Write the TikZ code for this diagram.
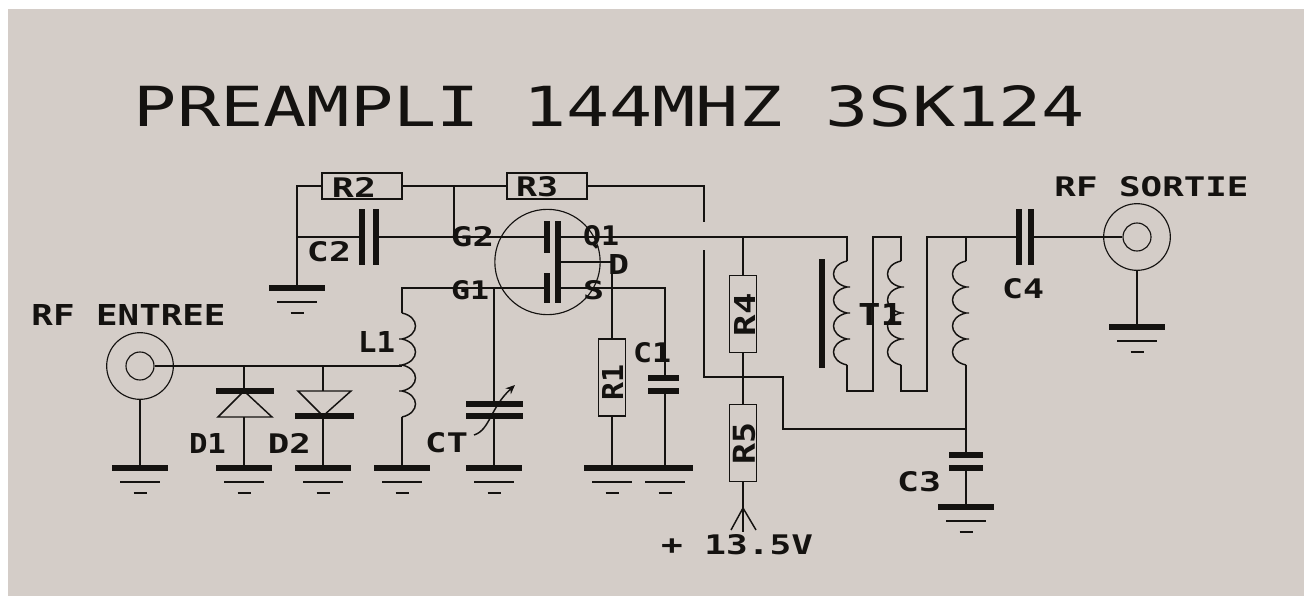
\documentclass[tikz,border=0pt]{standalone}
\usepackage{fontspec}
\usepackage{graphicx}
\usetikzlibrary{arrows.meta}
\newfontfamily\cadfont{DejaVu Sans Mono}
\newdimen\pxu \pxu=0.75pt
\newcommand\cadtext[3]{\resizebox{#1\pxu}{#2\pxu}{\cadfont\bfseries #3}}
\newcommand\cadtitle[3]{\resizebox{#1\pxu}{#2\pxu}{\cadfont #3}}
\definecolor{panel}{HTML}{D4CDC8}
\definecolor{ink}{HTML}{141210}
\tikzset{
  wire/.style={draw=ink,line width=1.1pt},
  plate/.style={draw=ink,line width=3.9pt},
  gbar/.style={draw=ink,line width=4pt},
  lbl/.style={inner sep=0pt,outer sep=0pt,text=ink},
  hres/.style={draw=ink,line width=1.1pt,rectangle,inner sep=0pt,minimum width=60pt,minimum height=19.5pt},
  vres/.style={draw=ink,line width=1.1pt,rectangle,inner sep=0pt,minimum width=20.5pt,minimum height=58pt},
  jack/.style={draw=ink,line width=0.85pt,circle,inner sep=0pt,minimum size=50pt},
  jackin/.style={draw=ink,line width=0.85pt,circle,inner sep=0pt,minimum size=21pt},
  fetbody/.style={draw=ink,line width=0.85pt,circle,inner sep=0pt,minimum size=79pt},
  gnd/.pic={
    \draw[gbar] (-28,0) -- (28,0);
    \draw[wire] (-20,14) -- (20,14);
    \draw[wire] (-6.5,25) -- (6.5,25);
  },
  coil/.pic={
    \draw[wire] (0,0)
      .. controls (18,4) and (18,22) .. (0,26) -- (-3,26) -- (0,26)
      .. controls (18,30) and (18,48) .. (0,52) -- (-3,52) -- (0,52)
      .. controls (18,56) and (18,74) .. (0,78) -- (-3,78) -- (0,78)
      .. controls (18,82) and (18,100) .. (0,104);
  }
}
\begin{document}
\begin{tikzpicture}[x=0.75pt,y=-0.75pt]
\useasboundingbox (0,0) rectangle (1304,596);
\fill[white] (0,0) rectangle (1304,596);
\fill[panel] (8,9) rectangle (1304,596);

% components with a body
\node[hres] (R2) at (362,186) {};
\node[hres] (R3) at (547,186) {};
\node[vres] (R1) at (612,377.5) {};
\node[vres] (R4) at (743,314) {};
\node[vres] (R5) at (743,443) {};
\node[jack] (Jin) at (140,366) {};
\node[jackin] (JinC) at (140,366) {};
\node[jack] (Jout) at (1137,237) {};
\node[jackin] (JoutC) at (1137,237) {};
\node[fetbody] (Q) at (547.5,262) {};

% named points
\coordinate (gC2) at (297,288);
\coordinate (gJin) at (140,468);
\coordinate (gD1) at (244,468);
\coordinate (gD2) at (323,468);
\coordinate (gL1) at (402,468);
\coordinate (gCT) at (494,468);
\coordinate (gR1) at (612,468);
\coordinate (gC1) at (665,468);
\coordinate (gC3) at (966,507);
\coordinate (gOut) at (1137,327);
\coordinate (tapG2) at (454,185);
\coordinate (g2line) at (454,237);
\coordinate (c2node) at (297,237);
\coordinate (c2a) at (362,237);
\coordinate (c2b) at (376,237);
\coordinate (gateA) at (547,237);
\coordinate (gateB) at (547,288);
\coordinate (chanD) at (558,237);
\coordinate (chanM) at (558,262);
\coordinate (chanS) at (558,288);
\coordinate (drainT) at (612,262);
\coordinate (sRight) at (665,288);
\coordinate (c1a) at (665,378);
\coordinate (c1b) at (665,391);
\coordinate (ctTop) at (494,288);
\coordinate (ctA) at (494,404);
\coordinate (ctB) at (494,416);
\coordinate (l1Top) at (402,288);
\coordinate (l1C) at (402,313);
\coordinate (l1End) at (402,417);
\coordinate (l1Tap) at (402,366);
\coordinate (d1T) at (244,366);
\coordinate (d1A) at (244,391);
\coordinate (d1B) at (244,417);
\coordinate (d2T) at (323,366);
\coordinate (d2A) at (323,391);
\coordinate (d2B) at (323,416);
\coordinate (upT) at (704,222);
\coordinate (upB) at (704,250);
\coordinate (feedA) at (783,377);
\coordinate (feedB) at (966,429);
\coordinate (r4T) at (743,237);
\coordinate (t1A) at (847,237);
\coordinate (t1Ac) at (847,261);
\coordinate (t1Ae) at (847,365);
\coordinate (t1AB) at (873,391);
\coordinate (t1Bt) at (873,237);
\coordinate (t1Bc) at (901,261);
\coordinate (t1Be) at (901,365);
\coordinate (t1BB) at (927,391);
\coordinate (t1Ct) at (927,237);
\coordinate (t1Cc) at (966,261);
\coordinate (t1Ce) at (966,365);
\coordinate (t1Cj) at (966,237);
\coordinate (c3a) at (966,455);
\coordinate (c3b) at (966,468);
\coordinate (c4a) at (1019,237);
\coordinate (c4b) at (1031,237);
\coordinate (fanE) at (743,532);
\coordinate (fanA) at (743,508);
\coordinate (fanL) at (731,530);
\coordinate (fanR) at (756,530);

% wires
\draw[wire] (R2.west) -| (gC2);
\draw[wire] (R2.east) -- (R3.west);
\draw[wire] (R3.east) -| (upT);
\draw[wire] (tapG2) -- (g2line);
\draw[wire] (c2node) -- (c2a);
\draw[wire] (c2b) -- (gateA);
\draw[wire] (chanD) -- (t1A) -- (t1Ac);
\draw[wire] (chanM) -- (drainT) -- (R1.north);
\draw[wire] (chanS) -- (sRight) -- (c1a);
\draw[wire] (c1b) -- (gC1);
\draw[wire] (R1.south) -- (gR1);
\draw[wire] (l1C) -- (l1Top) -- (gateB);
\draw[wire] (ctTop) -- (ctA);
\draw[wire] (ctB) -- (gCT);
\draw[wire] (l1End) -- (gL1);
\draw[wire] (JinC.east) -- (l1Tap);
\draw[wire] (Jin.south) -- (gJin);
\draw[wire] (d1T) -- (d1A);
\draw[wire] (d1B) -- (gD1);
\draw[wire] (d2T) -- (d2A);
\draw[wire] (d2B) -- (gD2);
\draw[wire] (upB) |- (feedA) |- (feedB);
\draw[wire] (r4T) -- (R4.north);
\draw[wire] (R4.south) -- (R5.north);
\draw[wire] (R5.south) -- (fanE);
\draw[wire] (fanA) -- (fanL);
\draw[wire] (fanA) -- (fanR);
\draw[wire] (t1Ae) |- (t1AB) -- (t1Bt) -| (t1Bc);
\draw[wire] (t1Be) |- (t1BB) -- (t1Ct) -- (c4a);
\draw[wire] (t1Cj) -- (t1Cc);
\draw[wire] (t1Ce) -- (c3a);
\draw[wire] (c3b) -- (gC3);
\draw[wire] (c4b) -- (JoutC.west);
\draw[wire] (Jout.south) -- (gOut);

% capacitor plates, FET electrodes, core
\draw[plate] (362,209) -- (362,265);
\draw[plate] (376,209) -- (376,265);
\draw[plate] (1019,209) -- (1019,265);
\draw[plate] (1031,209) -- (1031,265);
\draw[plate] (648,378) -- (679,378);
\draw[plate] (648,391) -- (679,391);
\draw[plate] (949,455) -- (983,455);
\draw[plate] (949,468) -- (983,468);
\draw[plate] (466,404) -- (523,404);
\draw[plate] (466,416) -- (523,416);
\draw[plate] (547,221) -- (547,253);
\draw[plate] (547,273) -- (547,303);
\draw[plate] (558,221) -- (558,303);
\draw[draw=ink,line width=4.4pt] (822,259) -- (822,368);

% diodes
\draw[plate] (216,391) -- (274,391);
\draw[wire] (244,391) -- (218,417) -- (272,417) -- cycle;
\draw[wire] (298,391) -- (351,391) -- (323,416) -- cycle;
\draw[plate] (295,416) -- (354,416);

% variable capacitor arrow
\draw[wire,-{Stealth[length=7pt,width=6pt]}] (474,435) .. controls (490,430) and (490,408) .. (515,385);

% coils
\pic at (l1C) {coil};
\pic[xscale=-1] at (t1Ac) {coil};
\pic[xscale=-1] at (t1Bc) {coil};
\pic[xscale=-1] at (t1Cc) {coil};

% grounds
\pic at (gC2) {gnd};
\pic at (gJin) {gnd};
\pic at (gD1) {gnd};
\pic at (gD2) {gnd};
\pic at (gL1) {gnd};
\pic at (gCT) {gnd};
\pic at (gR1) {gnd};
\pic at (gC1) {gnd};
\pic at (gC3) {gnd};
\pic at (gOut) {gnd};

% labels
\node[lbl] (title) at (609.5,106) {\cadtitle{951}{41}{PREAMPLI 144MHZ 3SK124}};
\node[lbl] (lRFin) at (128.5,314.5) {\cadtext{194}{21}{RF ENTREE}};
\node[lbl] (lRFout) at (1151.5,187) {\cadtext{194}{20}{RF SORTIE}};
\node[lbl] (lR2) at (354,187) {\cadtext{44}{20}{R2}};
\node[lbl] (lR3) at (537,187) {\cadtext{42}{20}{R3}};
\node[lbl] (lC2) at (329,252) {\cadtext{44}{20}{C2}};
\node[lbl] (lG2) at (472.5,237) {\cadtext{43}{20}{G2}};
\node[lbl] (lG1) at (470,290) {\cadtext{38}{19}{G1}};
\node[lbl] (lQ1) at (601,237) {\cadtext{36}{20}{Q1}};
\node[lbl] (lD) at (618.5,264) {\cadtext{21}{20}{D}};
\node[lbl] (lS) at (593.5,290) {\cadtext{21}{19}{S}};
\node[lbl] (lC1) at (652,353) {\cadtext{38}{20}{C1}};
\node[lbl] (lL1) at (376.5,341.5) {\cadtext{37}{21}{L1}};
\node[lbl] (lD1) at (207.5,443) {\cadtext{37}{20}{D1}};
\node[lbl] (lD2) at (289.5,443) {\cadtext{43}{20}{D2}};
\node[lbl] (lCT) at (446.5,443) {\cadtext{43}{20}{CT}};
\node[lbl,rotate=90] (lR1) at (612.5,382) {\cadtext{36}{21}{R1}};
\node[lbl,rotate=90] (lR4) at (744.5,314.5) {\cadtext{43}{21}{R4}};
\node[lbl,rotate=90] (lR5) at (744,443) {\cadtext{42}{22}{R5}};
\node[lbl] (lT1) at (880.5,314) {\cadtext{45}{22}{T1}};
\node[lbl] (lC3) at (919,482) {\cadtext{44}{20}{C3}};
\node[lbl] (lC4) at (1023,289) {\cadtext{42}{20}{C4}};
\node[lbl] (lV) at (737,545) {\cadtext{152}{20}{+ 13.5V}};
\end{tikzpicture}
\end{document}
